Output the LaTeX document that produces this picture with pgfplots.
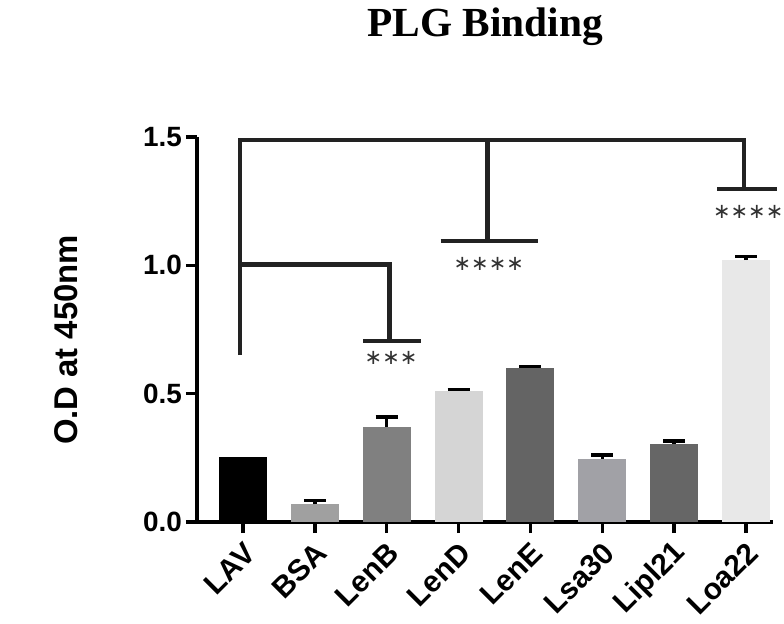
\documentclass[border=0pt]{standalone}
\usepackage{fontspec}
\setmainfont{Liberation Sans}
\newfontfamily\timesf{Liberation Serif}
\newfontfamily\dejavu{DejaVu Sans}
\usepackage{pgfplots}
\pgfplotsset{compat=1.18}

\definecolor{cLAV}{HTML}{000000}
\definecolor{cBSA}{HTML}{A0A0A0}
\definecolor{cLenB}{HTML}{808080}
\definecolor{cLenD}{HTML}{D5D5D5}
\definecolor{cLenE}{HTML}{646464}
\definecolor{cLsa}{HTML}{A1A1A6}
\definecolor{cLipl}{HTML}{666666}
\definecolor{cLoa}{HTML}{E8E8E8}
\definecolor{brk}{HTML}{222222}
\definecolor{star}{HTML}{333333}

\newcommand{\onestar}{\makebox[17.6bp]{\dejavu ∗}}
\newcommand{\stars}[1]{\foreach \i in {1,...,#1}{\onestar}}

\pgfplotsset{
  plainbar/.style={ybar, bar width=48bp, bar shift=0pt, draw=none, fill=#1},
  mybar/.style={plainbar=#1,
    error bars/.cd, y dir=plus, y explicit,
    error bar style={black, line width=3.5bp},
    error mark options={black, line width=3.5bp, mark size=11bp, rotate=90}},
  bracket/.style={brk, line width=4.5bp, no marks, sharp plot, line join=miter},
}

\begin{document}
\begin{tikzpicture}
  \useasboundingbox (-197bp,-102bp) rectangle (587bp,522bp);
  \begin{axis}[
      at={(0,0)}, anchor=south west,
      scale only axis,
      width=576bp, height=385bp,
      xmin=-0.64, xmax=7.375,
      ymin=0, ymax=1.5,
      clip=false,
      axis x line=bottom, axis y line=left,
      axis line style={-, line width=3.5bp, black},
      tick align=outside,
      major tick length=11bp,
      tick style={line width=3.5bp, black},
      xtick={0,...,7},
      xticklabels={LAV,BSA,LenB,LenD,LenE,Lsa30,Lipl21,Loa22},
      xticklabel style={anchor=east, inner sep=0pt,
        xshift=7bp, yshift=-15bp, rotate=45,
        font=\fontsize{30}{30}\selectfont\bfseries},
      ytick={0,0.5,1,1.5},
      yticklabel style={inner sep=0pt, xshift=-4bp,
        font=\fontsize{28}{28}\selectfont\bfseries},
      /pgf/number format/assume math mode=true,
      /pgf/number format/.cd, fixed, fixed zerofill, precision=1,
      /pgfplots/.cd,
      ylabel={O.D at 450nm},
      every axis y label/.style={at={(axis description cs:-0.227,0.473)},
        rotate=90, anchor=center,
        font=\fontsize{33}{33}\selectfont\bfseries},
      title={\timesf\bfseries PLG Binding},
      every axis title/.style={at={(axis description cs:0.5,1.26)},
        anchor=base, font=\fontsize{41.5}{41.5}\selectfont},
    ]
    % bars, mean + upper SEM
    \addplot[plainbar=cLAV] coordinates {(0,0.253)};
    \addplot[mybar=cBSA]  coordinates {(1,0.069) +- (0,0.014)};
    \addplot[mybar=cLenB] coordinates {(2,0.371) +- (0,0.039)};
    \addplot[mybar=cLenD] coordinates {(3,0.511) +- (0,0.006)};
    \addplot[mybar=cLenE] coordinates {(4,0.600) +- (0,0.006)};
    \addplot[mybar=cLsa]  coordinates {(5,0.247) +- (0,0.015)};
    \addplot[mybar=cLipl] coordinates {(6,0.303) +- (0,0.012)};
    \addplot[mybar=cLoa]  coordinates {(7,1.020) +- (0,0.014)};

    % significance brackets
    \addplot[bracket] coordinates {(-0.04,0.65) (-0.04,1.488) (6.97,1.488) (6.97,1.297)};
    \addplot[bracket] coordinates {(3.40,1.488) (3.40,1.095)};
    \addplot[bracket] coordinates {(2.75,1.095) (4.10,1.095)};
    \addplot[bracket] coordinates {(6.60,1.297) (7.43,1.297)};
    \addplot[bracket] coordinates {(-0.04,1.004) (2.04,1.004) (2.04,0.706)};
    \addplot[bracket] coordinates {(1.675,0.706) (2.47,0.706)};

    \node[star, font=\fontsize{21}{21}\selectfont, anchor=center, inner sep=0pt]
      at (axis cs:2.06,0.638) {\stars{3}};
    \node[star, font=\fontsize{21}{21}\selectfont, anchor=center, inner sep=0pt]
      at (axis cs:3.42,1.005) {\stars{4}};
    \node[star, font=\fontsize{21}{21}\selectfont, anchor=center, inner sep=0pt]
      at (axis cs:7.03,1.208) {\stars{4}};
  \end{axis}
\end{tikzpicture}
\end{document}
